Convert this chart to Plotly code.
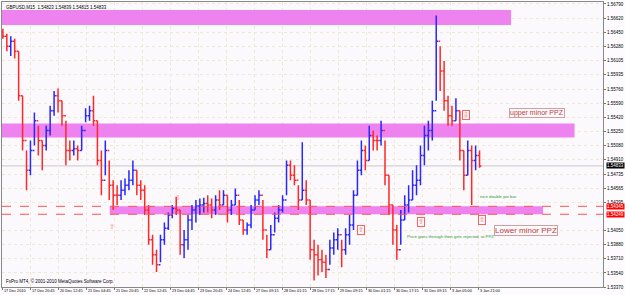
import plotly.graph_objects as go

# ---------------- data ----------------
high = [1.5649,1.5643,1.5640,1.5637,1.5622,1.5568,1.5502,1.5514,1.5548,1.5532,
        1.5514,1.5532,1.5556,1.5574,1.5577,1.5562,1.5538,1.5514,1.5514,1.5508,
        1.5532,1.5553,1.5556,1.5568,1.5538,1.5502,1.5514,1.5490,1.5466,1.5460,
        1.5466,1.5468,1.5478,1.5490,1.5478,1.5466,1.5460,1.5436,1.5400,1.5382,
        1.5400,1.5415,1.5427,1.5436,1.5446,1.5430,1.5406,1.5424,1.5436,1.5442,
        1.5444,1.5445,1.5448,1.5444,1.5448,1.5454,1.5454,1.5448,1.5442,1.5456,
        1.5442,1.5418,1.5415,1.5436,1.5448,1.5454,1.5442,1.5400,1.5412,1.5427,
        1.5436,1.5448,1.5490,1.5490,1.5484,1.5460,1.5512,1.5466,1.5442,1.5394,
        1.5388,1.5382,1.5376,1.5394,1.5403,1.5408,1.5394,1.5408,1.5424,1.5454,
        1.5490,1.5514,1.5508,1.5532,1.5526,1.5520,1.5538,1.5514,1.5472,1.5436,
        1.5412,1.5430,1.5448,1.5460,1.5478,1.5484,1.5508,1.5532,1.5538,1.5562,
        1.5665,1.5628,1.5610,1.5568,1.5556,1.5565,1.5550,1.5502,1.5514,1.5508,
        1.5508,1.5502]
low = [1.5637,1.5622,1.5616,1.5613,1.5562,1.5502,1.5454,1.5472,1.5508,1.5496,
       1.5478,1.5502,1.5520,1.5544,1.5548,1.5532,1.5484,1.5490,1.5496,1.5490,
       1.5502,1.5536,1.5538,1.5532,1.5484,1.5448,1.5472,1.5442,1.5430,1.5436,
       1.5442,1.5448,1.5454,1.5460,1.5448,1.5442,1.5424,1.5388,1.5364,1.5355,
       1.5367,1.5388,1.5406,1.5420,1.5424,1.5376,1.5372,1.5382,1.5406,1.5415,
       1.5424,1.5427,1.5427,1.5420,1.5424,1.5430,1.5436,1.5415,1.5424,1.5436,
       1.5412,1.5400,1.5400,1.5408,1.5430,1.5436,1.5394,1.5372,1.5382,1.5403,
       1.5415,1.5427,1.5448,1.5466,1.5460,1.5430,1.5442,1.5436,1.5370,1.5345,
       1.5351,1.5355,1.5348,1.5364,1.5376,1.5382,1.5361,1.5376,1.5388,1.5406,
       1.5448,1.5472,1.5478,1.5490,1.5502,1.5502,1.5508,1.5460,1.5424,1.5388,
       1.5370,1.5388,1.5418,1.5427,1.5442,1.5448,1.5460,1.5484,1.5502,1.5514,
       1.5562,1.5574,1.5550,1.5532,1.5532,1.5538,1.5490,1.5454,1.5472,1.5436,
       1.5478,1.5481]
close = [1.5640,1.5628,1.5634,1.5622,1.5568,1.5514,1.5478,1.5502,1.5538,1.5514,
         1.5508,1.5526,1.5550,1.5568,1.5562,1.5544,1.5502,1.5502,1.5504,1.5502,
         1.5526,1.5544,1.5550,1.5538,1.5490,1.5466,1.5502,1.5460,1.5448,1.5448,
         1.5454,1.5460,1.5466,1.5478,1.5460,1.5454,1.5430,1.5394,1.5376,1.5364,
         1.5394,1.5408,1.5424,1.5432,1.5430,1.5388,1.5394,1.5418,1.5430,1.5435,
         1.5436,1.5438,1.5436,1.5430,1.5442,1.5436,1.5448,1.5430,1.5436,1.5448,
         1.5418,1.5406,1.5412,1.5430,1.5442,1.5448,1.5406,1.5382,1.5400,1.5420,
         1.5430,1.5442,1.5484,1.5472,1.5466,1.5442,1.5454,1.5442,1.5382,1.5376,
         1.5370,1.5367,1.5358,1.5384,1.5394,1.5400,1.5382,1.5400,1.5412,1.5448,
         1.5478,1.5502,1.5490,1.5520,1.5514,1.5514,1.5526,1.5472,1.5436,1.5406,
         1.5382,1.5418,1.5436,1.5442,1.5460,1.5466,1.5496,1.5520,1.5526,1.5550,
         1.5634,1.5598,1.5562,1.5544,1.5538,1.5550,1.5502,1.5472,1.5502,1.5490,
         1.5496,1.54833]
first_open = 1.5645
bar_step = 9          # M15 bars per plotted bar
bar_start = 2

date_labels = ["17 Dec 2010", "17 Dec 20:45", "20 Dec 12:45", "21 Dec 04:45",
               "21 Dec 20:45", "22 Dec 12:45", "23 Dec 04:45", "23 Dec 20:45",
               "24 Dec 12:45", "27 Dec 09:15", "28 Dec 01:15", "28 Dec 17:15",
               "29 Dec 09:15", "30 Dec 01:15", "30 Dec 17:15", "31 Dec 09:15",
               "3 Jan 05:00", "3 Jan 21:00"]
date_bars = [0, 64, 128, 192, 256, 320, 384, 448, 512, 576, 640, 704, 768,
             832, 896, 960, 1024, 1088]

price_ticks = [1.53370, 1.53540, 1.53710, 1.53880, 1.54050, 1.54395, 1.54565,
               1.54735, 1.54910, 1.55080, 1.55250, 1.55420, 1.55590, 1.55760,
               1.55935, 1.56105, 1.56280, 1.56450, 1.56620, 1.56790]
price_labels = ["1.53370", "1.53540", "1.53710", "1.53880", "1.54050", "1.54395",
                "1.54565", "1.54735", "1.54910", "1.55080", "1.55250", "1.55420",
                "1.55590", "1.55760", "1.55935", "1.56105", "1.56280", "1.56450",
                "1.56620", "1.56790"]

# zones: (start bar, end bar, low price, high price)
zone_names = ["upper", "upper minor", "lower minor"]
zone_start = [0, 0, 246]
zone_end = [1163, 1308, 1236]
zone_low = [1.56537, 1.55176, 1.54249]
zone_high = [1.56718, 1.55345, 1.54345]

level_prices = [1.54345, 1.54249]
level_labels = ["1.54345", "1.54249"]
bid_price = 1.54833
bid_label = "1.54833"

x_range = [0, 1373]
y_range = [1.53370, 1.56814]

# ---------------- build ----------------
n = len(close)
xs = [bar_start + bar_step * i for i in range(n)]
opens = [first_open] + close[:-1]

FONT = "Liberation Sans"
fig = go.Figure()
fig.add_trace(go.Ohlc(
    x=xs, open=opens, high=high, low=low, close=close,
    increasing=dict(line=dict(color="#2828ff", width=1.5)),
    decreasing=dict(line=dict(color="#ff2828", width=1.5)),
    tickwidth=0.45, hoverinfo="skip", showlegend=False))

shapes = []
for s, e, lo, hi in zip(zone_start, zone_end, zone_low, zone_high):
    shapes.append(dict(type="rect", xref="x", yref="y", x0=s, x1=e, y0=lo, y1=hi,
                       fillcolor="#ee82ee", line=dict(width=0), layer="between"))
shapes.append(dict(type="line", xref="paper", yref="y", x0=0, x1=1,
                   y0=bid_price, y1=bid_price, line=dict(color="#c8c8c8", width=1),
                   layer="between"))
for p in level_prices:
    shapes.append(dict(type="line", xref="paper", yref="y", x0=0, x1=1, y0=p, y1=p,
                       line=dict(color="#ff5050", width=1, dash="dash")))

ann = []
ann.append(dict(xref="paper", yref="paper", x=0, y=1, xanchor="left", yanchor="top",
                xshift=2, yshift=-1, showarrow=False,
                text="GBPUSD,M15  1.54823 1.54839 1.54815 1.54833",
                font=dict(family=FONT, size=4.5, color="#000")))
ann.append(dict(xref="paper", yref="paper", x=0, y=0, xanchor="left", yanchor="bottom",
                xshift=2, yshift=1, showarrow=False,
                text="FxPro MT4, © 2001-2010 MetaQuotes Software Corp.",
                font=dict(family=FONT, size=4.5, color="#000")))
for b, t in zip(date_bars, date_labels):
    ann.append(dict(xref="x", yref="paper", x=b, y=0, xanchor="left", yanchor="top",
                    yshift=0, xshift=0, showarrow=False, text=t,
                    font=dict(family=FONT, size=3.8, color="#000")))
for p, t in zip(level_prices, level_labels):
    ann.append(dict(xref="paper", yref="y", x=1, y=p, xanchor="left", yanchor="middle",
                    xshift=3, showarrow=False, text=t, bgcolor="#ff0000",
                    borderpad=0, font=dict(family=FONT, size=4.5, color="#fff")))
ann.append(dict(xref="paper", yref="y", x=1, y=bid_price, xanchor="left",
                yanchor="middle", xshift=3, showarrow=False, text=bid_label,
                bgcolor="#000000", borderpad=0,
                font=dict(family=FONT, size=4.5, color="#fff")))

# text notes
ann.append(dict(xref="x", yref="y", x=1222, y=1.55477, showarrow=False,
                text="upper minor PPZ", bordercolor="#d0a0a0", borderwidth=1,
                borderpad=0, font=dict(family=FONT, size=7, color="#c04040")))
ann.append(dict(xref="x", yref="y", x=1196, y=1.54056, showarrow=False,
                text="Lower minor PPZ", bordercolor="#d0a0a0", borderwidth=1,
                borderpad=0, font=dict(family=FONT, size=8, color="#c04040")))
ann.append(dict(xref="x", yref="y", x=920, y=1.53984, xanchor="left", showarrow=False,
                text="Price goes through then gets rejected  at PPZ",
                font=dict(family=FONT, size=4.3, color="#2a9a2a")))
ann.append(dict(xref="x", yref="y", x=1088, y=1.54466, xanchor="left", showarrow=False,
                text="nice double pin bar",
                font=dict(family=FONT, size=4.3, color="#2a9a2a")))

# arrow signs
box_x = [1061, 819, 957, 1097]
box_y = [1.55453, 1.54056, 1.54153, 1.54177]
box_t = ["⇩", "⇧", "⇧", "⇧"]
for bx, by, bt in zip(box_x, box_y, box_t):
    ann.append(dict(xref="x", yref="y", x=bx, y=by, showarrow=False, text=bt,
                    bordercolor="#ff6060", borderwidth=1, borderpad=0,
                    font=dict(family="DejaVu Sans", size=7, color="#ff6060")))
plain_x = [402, 251]
plain_y = [1.54442, 1.54092]
plain_t = ["⇩", "⇧"]
for bx, by, bt in zip(plain_x, plain_y, plain_t):
    ann.append(dict(xref="x", yref="y", x=bx, y=by, showarrow=False, text=bt,
                    font=dict(family="DejaVu Sans", size=7, color="#ff8080")))

fig.update_layout(
    width=625, height=295,
    margin=dict(l=1, r=17, t=1, b=8),
    paper_bgcolor="#fdfbfd", plot_bgcolor="#fcf9fc",
    shapes=shapes, annotations=ann, showlegend=False,
    xaxis=dict(range=x_range, tickvals=date_bars, showticklabels=False,
               ticks="outside", ticklen=2, tickcolor="#777",
               showgrid=True, gridcolor="#f0e8d6", griddash="dot", gridwidth=1,
               showline=True, linecolor="#888", mirror=True, zeroline=False,
               rangeslider=dict(visible=False), fixedrange=True),
    yaxis=dict(range=y_range, side="right", tickvals=price_ticks,
               ticktext=price_labels, ticks="outside", ticklen=2, tickcolor="#777",
               tickfont=dict(family=FONT, size=4.5, color="#000"),
               showgrid=True, gridcolor="#f0e8d6", griddash="dot", gridwidth=1,
               showline=True, linecolor="#888", mirror=True, zeroline=False,
               fixedrange=True),
)
fig.write_html("out.html")
